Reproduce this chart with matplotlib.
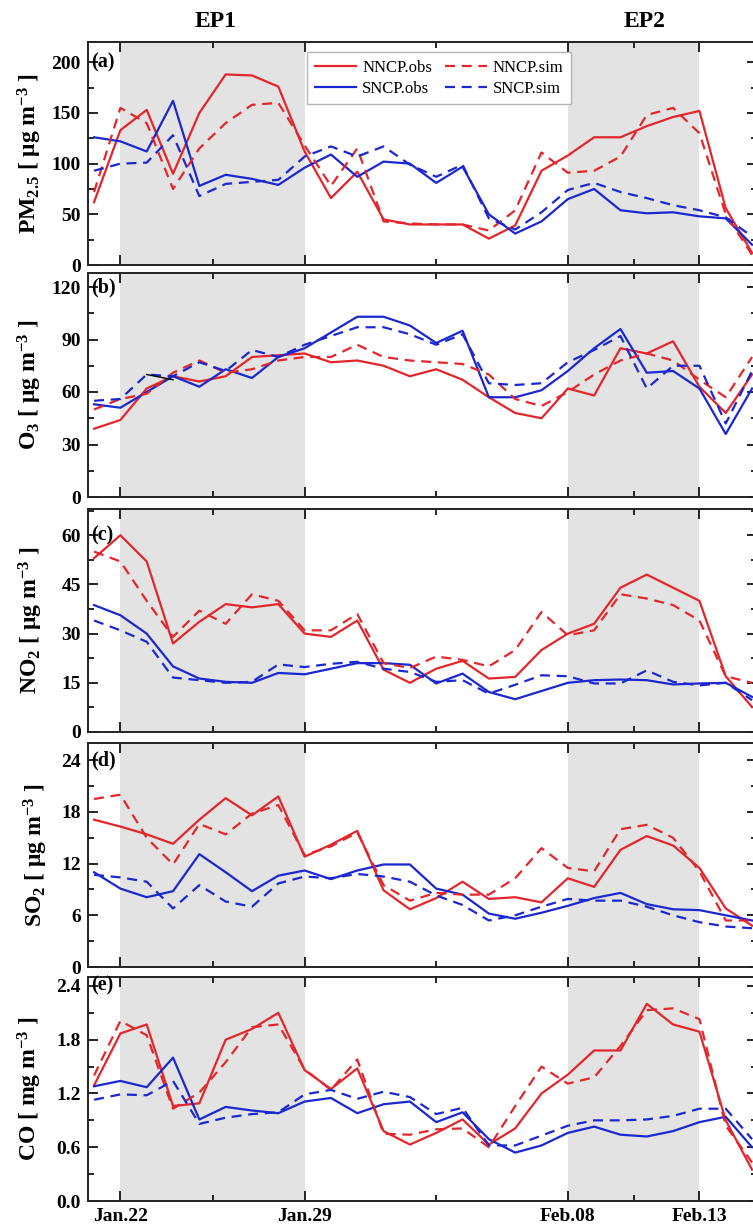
import numpy as np
import pandas as pd
import matplotlib
matplotlib.use("Agg")
import matplotlib.pyplot as plt
import matplotlib.dates as mdates
import matplotlib.transforms as mtransforms
from matplotlib.ticker import AutoMinorLocator, FormatStrFormatter

# =====================================================
# DATA (daily means, Jan.21 - Feb.15)
# =====================================================
dates = pd.date_range("2021-01-21", periods=26, freq="D")

pm_nncp_obs = [62, 133, 153, 90, 150, 188, 187, 176, 112, 66, 92, 45, 40, 40, 40, 26,
               39, 93, 108, 126, 126, 137, 146, 152, 56, 12]
pm_nncp_sim = [72, 155, 140, 75, 115, 140, 158, 160, 118, 78, 115, 43, 41, 40, 40, 34,
               54, 111, 91, 93, 107, 148, 155, 130, 50, 10]
pm_sncp_obs = [126, 122, 112, 162, 78, 89, 85, 79, 96, 109, 87, 102, 100, 81, 97, 50,
               31, 43, 65, 75, 54, 51, 52, 48, 46, 20]
pm_sncp_sim = [93, 100, 101, 128, 68, 80, 82, 84, 107, 117, 107, 117, 99, 87, 99, 46,
               35, 52, 74, 81, 72, 66, 59, 54, 47, 28]

o3_nncp_obs = [39, 44, 62, 69, 66, 69, 80, 81, 82, 77, 78, 75, 69, 73, 67, 57,
               48, 45, 62, 58, 85, 82, 89, 63, 48, 70]
o3_nncp_sim = [50, 56, 59, 71, 78, 71, 73, 78, 80, 80, 87, 80, 78, 77, 76, 70,
               56, 52, 60, 70, 78, 82, 78, 67, 57, 80]
o3_sncp_obs = [53, 51, 60, 69, 63, 73, 68, 80, 85, 94, 103, 103, 98, 88, 95, 57,
               57, 61, 72, 85, 96, 71, 72, 62, 36, 62]
o3_sncp_sim = [55, 56, 70, 69, 77, 72, 84, 80, 87, 92, 97, 97, 93, 87, 93, 65,
               64, 65, 77, 84, 92, 62, 75, 75, 42, 72]
o3_extra = [70, 67]

no2_nncp_obs = [53, 60, 52, 27, 33.6, 39, 38, 39, 30, 29, 34, 19, 15, 19.3, 21.7, 16.3,
                16.8, 25, 30, 33, 44, 48, 44, 40, 17, 7.6]
no2_nncp_sim = [55, 52, 40, 29, 37, 33, 42, 40, 31, 31, 36, 21, 19.5, 23, 22, 20,
                25, 36.6, 29.5, 31, 42, 40.7, 38.7, 34, 17, 15]
no2_sncp_obs = [38.7, 35.6, 30, 20, 16.3, 15.3, 15, 18, 17.6, 19.3, 21, 21, 20.5, 14.8, 17.8, 12.2,
                10, 12.5, 15, 15.8, 16, 15.8, 14.5, 14.8, 15, 10.7]
no2_sncp_sim = [34, 31, 27.5, 16.6, 15.8, 15, 15.3, 20.6, 19.8, 20.8, 21.4, 19.3, 18.3, 15.3, 15.8, 11.7,
                14.4, 17.3, 17, 14.8, 14.8, 18.8, 15.3, 14.2, 15, 9.7]

so2_nncp_obs = [17.1, 16.3, 15.4, 14.3, 17.1, 19.6, 17.6, 19.8, 12.8, 14.2, 15.8, 8.9, 6.7, 8.0, 9.9, 7.9,
                8.1, 7.5, 10.3, 9.3, 13.6, 15.2, 14.1, 11.5, 6.8, 4.8]
so2_nncp_sim = [19.5, 20.0, 15.0, 11.9, 16.6, 15.4, 17.8, 18.8, 13.0, 14.0, 15.6, 9.5, 7.7, 8.6, 8.4, 8.4,
                10.3, 13.8, 11.5, 11.1, 16.0, 16.5, 15.0, 11.1, 5.4, 5.4]
so2_sncp_obs = [11.0, 9.1, 8.1, 8.8, 13.1, 11.0, 8.8, 10.6, 11.2, 10.2, 11.2, 11.9, 11.9, 9.1, 8.4, 6.2,
                5.6, 6.3, 7.1, 8.0, 8.6, 7.3, 6.7, 6.6, 6.0, 5.4]
so2_sncp_sim = [10.7, 10.4, 9.9, 6.8, 9.5, 7.6, 7.0, 9.7, 10.5, 10.3, 10.8, 10.5, 9.9, 8.3, 7.2, 5.4,
                6.0, 7.0, 7.9, 7.7, 7.7, 7.0, 6.0, 5.2, 4.7, 4.5]

co_nncp_obs = [1.29, 1.87, 1.97, 1.06, 1.09, 1.80, 1.92, 2.10, 1.46, 1.25, 1.48, 0.78, 0.63, 0.76, 0.91, 0.63,
               0.81, 1.20, 1.41, 1.68, 1.68, 2.20, 1.97, 1.89, 0.90, 0.35]
co_nncp_sim = [1.40, 2.01, 1.85, 1.03, 1.21, 1.55, 1.94, 1.97, 1.47, 1.24, 1.58, 0.75, 0.74, 0.80, 0.81, 0.60,
               1.06, 1.50, 1.31, 1.38, 1.73, 2.13, 2.15, 2.03, 0.84, 0.43]
co_sncp_obs = [1.28, 1.34, 1.27, 1.60, 0.91, 1.05, 1.01, 0.98, 1.11, 1.15, 0.98, 1.08, 1.11, 0.88, 0.99, 0.69,
               0.54, 0.62, 0.76, 0.83, 0.74, 0.72, 0.78, 0.88, 0.94, 0.60]
co_sncp_sim = [1.13, 1.19, 1.18, 1.34, 0.86, 0.93, 0.97, 0.99, 1.19, 1.24, 1.14, 1.22, 1.16, 0.97, 1.04, 0.62,
               0.62, 0.73, 0.84, 0.90, 0.90, 0.91, 0.95, 1.03, 1.03, 0.69]

panels = [
    ("(a)", "PM$_{2.5}$ [ μg m$^{-3}$ ]", pm_nncp_obs, pm_nncp_sim, pm_sncp_obs, pm_sncp_sim, 220, 50, 200),
    ("(b)", "O$_3$ [ μg m$^{-3}$ ]", o3_nncp_obs, o3_nncp_sim, o3_sncp_obs, o3_sncp_sim, 128, 30, 120),
    ("(c)", "NO$_2$ [ μg m$^{-3}$ ]", no2_nncp_obs, no2_nncp_sim, no2_sncp_obs, no2_sncp_sim, 68, 15, 60),
    ("(d)", "SO$_2$ [ μg m$^{-3}$ ]", so2_nncp_obs, so2_nncp_sim, so2_sncp_obs, so2_sncp_sim, 26, 6, 24),
    ("(e)", "CO [ mg m$^{-3}$ ]", co_nncp_obs, co_nncp_sim, co_sncp_obs, co_sncp_sim, 2.5, 0.6, 2.4),
]

ep1 = (pd.Timestamp("2021-01-22"), pd.Timestamp("2021-01-29"))
ep2 = (pd.Timestamp("2021-02-08"), pd.Timestamp("2021-02-13"))
major_ticks = [ep1[0], ep1[1], ep2[0], ep2[1]]
minor_ticks = [ep1[0] + (ep1[1] - ep1[0]) / 2,
               ep1[1] + (ep2[0] - ep1[1]) / 2,
               ep2[0] + (ep2[1] - ep2[0]) / 2]

# =====================================================
# STYLE
# =====================================================
plt.rcParams["font.family"] = "Liberation Serif"
plt.rcParams["font.weight"] = "bold"
plt.rcParams["mathtext.fontset"] = "custom"
plt.rcParams["mathtext.rm"] = "Liberation Serif:bold"
plt.rcParams["mathtext.bf"] = "Liberation Serif:bold"
plt.rcParams["mathtext.it"] = "Liberation Serif:bold"
plt.rcParams["mathtext.default"] = "bf"

RED = "#e3262b"
BLUE = "#1b27cf"
SHADE = "#e3e3e3"
DASH = (0, (4.5, 3))

W, H = 753, 1230
tops = [42, 273, 509, 743, 977]
bottoms = [265, 497, 732, 967, 1201]
left_px, right_px = 87.7, 757
label_x_px = [30, 30, 31, 36, 30]

fig = plt.figure(figsize=(W / 100, H / 100), dpi=100)

xlim = (dates[0] - pd.Timedelta(hours=5.8), dates[-1] + pd.Timedelta(hours=4.5))

axes = []
for i, (tag, ylabel, nobs, nsim, sobs, ssim, ymax, ystep, ytop) in enumerate(panels):
    ax = fig.add_axes([left_px / W, 1 - bottoms[i] / H,
                       (right_px - left_px) / W, (bottoms[i] - tops[i]) / H])
    axes.append(ax)

    ax.axvspan(ep1[0], ep1[1], color=SHADE, lw=0, zorder=0)
    ax.axvspan(ep2[0], ep2[1], color=SHADE, lw=0, zorder=0)

    ax.plot(dates, nobs, color=RED, lw=1.6, label="NNCP.obs", zorder=3)
    ax.plot(dates, sobs, color=BLUE, lw=1.6, label="SNCP.obs", zorder=3)
    ax.plot(dates, nsim, color=RED, lw=1.6, ls=DASH, label="NNCP.sim", zorder=3)
    ax.plot(dates, ssim, color=BLUE, lw=1.6, ls=DASH, label="SNCP.sim", zorder=3)

    if i == 1:
        ax.plot(dates[2:4], o3_extra, color="black", lw=1.0, zorder=4)

    ax.set_xlim(xlim)
    ax.set_ylim(0, ymax)
    ax.set_yticks(np.arange(0, ytop + ystep / 2, ystep))
    ax.yaxis.set_minor_locator(AutoMinorLocator(2))
    if i == 4:
        ax.yaxis.set_major_formatter(FormatStrFormatter("%.1f"))

    ax.set_xticks(major_ticks)
    ax.set_xticks(minor_ticks, minor=True)
    ax.xaxis.set_major_formatter(mdates.DateFormatter("%b.%d"))

    ax.tick_params(which="both", direction="in", top=True, right=True,
                   width=1.2, labelsize=14, pad=5)
    ax.tick_params(which="major", length=7)
    ax.tick_params(which="minor", length=4.5)
    if i < 4:
        ax.tick_params(labelbottom=False)
    for s in ax.spines.values():
        s.set_linewidth(1.4)
        s.set_color("#222222")

    ax.set_ylabel(ylabel, fontsize=17, fontweight="bold", va="center", ha="center")
    ax.yaxis.set_label_coords((label_x_px[i] - left_px) / (right_px - left_px), 0.5)

    trans = mtransforms.blended_transform_factory(ax.transAxes, ax.transData)
    ax.text(0.005, ytop, tag, transform=trans, fontsize=14.5, fontweight="bold",
            ha="left", va="center", zorder=5)

# =====================================================
# LEGEND + EPISODE LABELS
# =====================================================
ax0 = axes[0]
ax0.legend(ncol=2, loc="upper left", bbox_to_anchor=(0.328, 0.955), borderaxespad=0,
           prop={"family": "Liberation Serif", "weight": "normal", "size": 12},
           frameon=True, fancybox=False, edgecolor="#b5b5b5", framealpha=1,
           handlelength=2.5, labelspacing=0.3, columnspacing=0.8, handletextpad=0.35,
           borderpad=0.45)

ax0.text(pd.Timestamp("2021-01-25 15:00"), 1.09, "EP1", transform=mtransforms.blended_transform_factory(ax0.transData, ax0.transAxes),
         fontsize=17, fontweight="bold", ha="center", va="center")
ax0.text(pd.Timestamp("2021-02-10 22:00"), 1.09, "EP2", transform=mtransforms.blended_transform_factory(ax0.transData, ax0.transAxes),
         fontsize=17, fontweight="bold", ha="center", va="center")

fig.savefig("out.png", dpi=100)
